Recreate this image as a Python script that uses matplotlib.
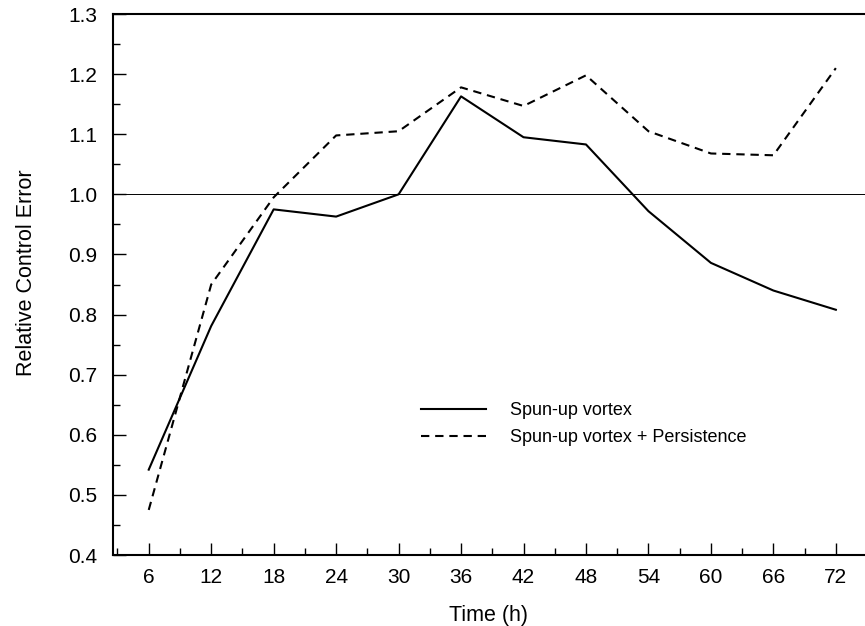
import numpy as np
import matplotlib
matplotlib.use("Agg")
import matplotlib.pyplot as plt
from matplotlib.ticker import MultipleLocator

# data
hours = [6, 12, 18, 24, 30, 36, 42, 48, 54, 60, 66, 72]
spun_up = [0.542, 0.781, 0.975, 0.963, 1.000, 1.163, 1.095, 1.083, 0.972, 0.886, 0.840, 0.808]
spun_up_pers = [0.475, 0.850, 0.995, 1.098, 1.105, 1.178, 1.147, 1.198, 1.105, 1.068, 1.065, 1.210]
labels = ["Spun-up vortex", "Spun-up vortex + Persistence"]

plt.rcParams['font.family'] = ['Liberation Sans', 'DejaVu Sans']

fig = plt.figure(figsize=(8.65, 6.26), dpi=100)
ax = fig.add_axes([0.1303, 0.1134, 0.8697, 0.8642])

# reference line at 1.0
ax.axhline(1.0, color='black', lw=0.7)

ax.plot(hours, spun_up, color='black', lw=1.5, label=labels[0])
ax.plot(hours, spun_up_pers, color='black', lw=1.5,
        linestyle=(0, (4, 2.8)), label=labels[1])

ax.set_xlim(2.54, 74.8)
ax.set_ylim(0.4, 1.3)
ax.set_xticks(hours)
ax.xaxis.set_minor_locator(MultipleLocator(3))
ax.yaxis.set_major_locator(MultipleLocator(0.1))
ax.yaxis.set_minor_locator(MultipleLocator(0.05))
ax.yaxis.set_major_formatter(matplotlib.ticker.FormatStrFormatter('%.1f'))

ax.tick_params(which='both', direction='in', width=1.0)
ax.tick_params(which='major', length=9, labelsize=15)
ax.tick_params(axis='x', which='major', pad=9)
ax.tick_params(axis='y', which='major', pad=11)
ax.tick_params(which='minor', length=5)

ax.spines['right'].set_visible(False)
for s in ['left', 'bottom', 'top']:
    ax.spines[s].set_linewidth(1.5)

ax.set_xlabel('Time (h)', fontsize=15.5, labelpad=13)
ax.set_ylabel('Relative Control Error', fontsize=15.5)
ax.yaxis.set_label_coords(-0.100, 0.521)

ax.legend(loc='upper left', bbox_to_anchor=(0.388, 0.312), frameon=False,
          fontsize=13, handlelength=3.6, handletextpad=1.33, labelspacing=0.55)

fig.savefig('out.png', dpi=100)
